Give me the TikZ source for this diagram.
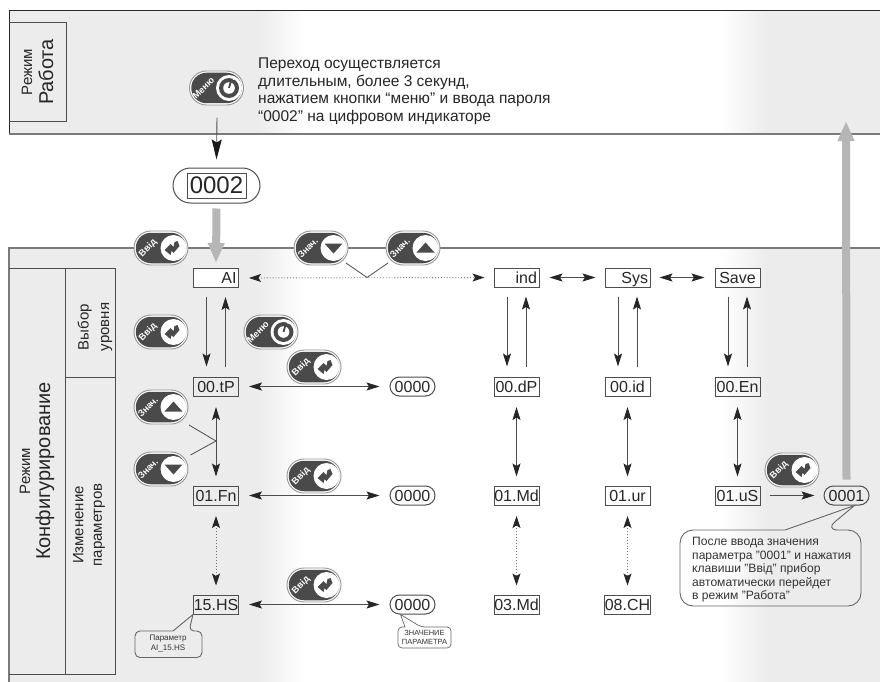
\documentclass[tikz,border=0pt]{standalone}
\usepackage{fontspec}
\setmainfont{Liberation Sans}
\usetikzlibrary{arrows.meta,shapes.misc,calc}
\newcommand{\fsz}[2]{\fontsize{#1}{#2}\selectfont}
\definecolor{bandgray}{HTML}{ECECEC}
\definecolor{keydark}{HTML}{4A4A4A}
\definecolor{bigarrow}{HTML}{B6B6B6}
\definecolor{inkline}{HTML}{4D4D4D}
\tikzset{
  lcd/.style={draw=inkline,line width=1pt,inner sep=0pt,minimum width=45pt,minimum height=19pt,text height=11.5pt,text depth=0pt,font=\fsz{16}{16},text=black!85},
  valcap/.style={rounded rectangle,draw=inkline,line width=1pt,inner sep=0pt,minimum width=45pt,minimum height=19pt,text height=11.5pt,text depth=0pt,font=\fsz{16}{16},text=black!85},
  keycap/.style={rounded rectangle,draw=black!42,fill=white,line width=.9pt,inner sep=0pt,minimum width=54pt,minimum height=34pt},
  keycore/.style={rounded rectangle,fill=keydark,inner sep=0pt,minimum width=50.5pt,minimum height=30.5pt},
  keylabel/.style={text=white,font=\bfseries\fsz{9.2}{9.2},rotate=45,inner sep=0pt},
  arr/.style={draw=inkline,line width=.9pt,-{Stealth[length=13pt,width=8pt,inset=2.5pt,color=black!85]}},
  barr/.style={draw=inkline,line width=.9pt,{Stealth[length=13pt,width=8pt,inset=2.5pt,color=black!85]}-{Stealth[length=13pt,width=8pt,inset=2.5pt,color=black!85]}},
  dotarr/.style={draw=black!55,line width=.9pt,dotted,{Stealth[length=12pt,width=8pt,inset=2.5pt,color=black!85]}-{Stealth[length=12pt,width=8pt,inset=2.5pt,color=black!85]}},
  bigtip/.style={draw=inkline,line width=.9pt,-{Stealth[length=20pt,width=10pt,inset=3pt,color=black!90]}},
  fat/.style={draw=bigarrow,line width=8pt,-{Triangle[length=20pt,width=15.5pt,color=bigarrow,fill=bigarrow]}},
  vee/.style={draw=inkline,line width=.8pt},
  gridline/.style={draw=inkline,line width=1pt},
  bandline/.style={draw=black!52,line width=1.2pt},
  side/.style={rotate=90,inner sep=0pt,align=center,text=black!85},
  callout/.style={draw=black!60,line width=.9pt},
  calltext/.style={inner sep=0pt,align=left,text=black!80}
}
\newcommand{\keybtn}[5]{%
  \node[keycap] (#1) at (#2,#3) {};
  \node[keycore] (#1c) at (#1.center) {};
  \fill[white] ($(#1.center)+(12.5,0)$) circle (13pt);
  \node[keylabel] (#1l) at ($(#1.center)+(-13,0)$) {#4};
  \begin{scope}[shift={($(#1.center)+(12.5,0)$)}]#5\end{scope}
}
\newcommand{\icoenter}{\fill[keydark] (-9,2) -- (-3,-4) -- (0,-1) -- (1,-6) -- (4,-7) -- (6,-2) -- (0,5) -- (-2,3) -- (-3,7) -- cycle;}
\newcommand{\icomenu}{\fill[keydark] (0,0) circle (10pt); \fill[white] (0,0) circle (5.8pt); \draw[keydark,line width=1.8pt] (0,0) -- (2.5,-9);\fill[white] (4.5,-9) circle (1pt);}
\newcommand{\icoup}{\fill[keydark] (-9,4.5) -- (9,4.5) -- (0,-5.5) -- cycle;}
\newcommand{\icodown}{\fill[keydark] (-9,-4.5) -- (9,-4.5) -- (0,5.5) -- cycle;}
\begin{document}
\begin{tikzpicture}[x=1pt,y=-1pt]
\useasboundingbox (0,0) rectangle (880,682);
\fill[white] (0,0) rectangle (880,682);
% backgrounds
\fill[bandgray] (9,11) rectangle (258,134);
\shade[left color=bandgray,right color=white] (258,11) rectangle (305,134);
\shade[left color=white,right color=bandgray] (720,11) rectangle (767,134);
\fill[bandgray] (767,11) rectangle (880,134);
\fill[bandgray] (9,248) rectangle (258,682);
\shade[left color=bandgray,right color=white] (258,248) rectangle (305,682);
\shade[left color=white,right color=bandgray] (720,248) rectangle (767,682);
\fill[bandgray] (767,248) rectangle (880,682);
% frames
\draw[draw=black!85,line width=1pt] (880,11) -- (9,11) -- (9,134);
\draw[bandline,line width=1.5pt] (9,134) -- (880,134);
\draw[bandline] (880,248) -- (9,248) -- (9,682);
\draw[gridline] (9,23) -- (66,23) -- (66,122) -- (9,122);
\draw[gridline] (9,268) -- (115,268) -- (115,674) -- (9,674);
\draw[gridline] (65.5,268) -- (65.5,674);
\draw[gridline] (65.5,377.5) -- (115,377.5);
% side labels
\node[side,font=\fsz{15}{15}] (lrezh1) at (27,72) {Режим};
\node[side,font=\fsz{20}{20}] (lrab) at (46,72) {Работа};
\node[side,font=\fsz{15}{15}] (lrezh2) at (25,471) {Режим};
\node[side,font=\fsz{20}{20}] (lkonf) at (45,471) {Конфигурирование};
\node[side,font=\fsz{15}{20.5}] (lvyb) at (95,327) {Выбор\\уровня};
\node[side,font=\fsz{15}{18.5}] (lizm) at (89,525) {Изменение\\параметров};
% top text
\node[anchor=north west,calltext,text=black!85,font=\fsz{15.5}{17.5}] (note) at (258,58) {Переход осуществляется\\длительным, более 3 секунд,\\нажатием кнопки “меню” и ввода пароля\\“0002” на цифровом индикаторе};
% 0002
\node[rounded rectangle,draw=inkline,fill=white,line width=1pt,minimum width=87pt,minimum height=35pt,inner sep=0pt] (c2) at (216.5,185.5) {};
\node[draw=inkline,line width=1pt,minimum width=59pt,minimum height=25pt,inner sep=0pt,font=\fsz{24}{24},text=black!85] (c2i) at (c2.center) {0002};
% level row
\node[lcd,fill=white] (ai) at (216,278) {\makebox[41pt][r]{AI}};
\node[lcd,fill=white] (ind) at (516.5,277.5) {\makebox[41pt][r]{ind}};
\node[lcd,fill=white] (sys) at (627.5,277.5) {\makebox[41pt][r]{Sys}};
\node[lcd,fill=white] (save) at (737.5,277.5) {Save};
% param rows
\node[lcd] (tp) at (216,386.5) {00.tP};
\node[lcd] (dp) at (516.5,386.5) {00.dP};
\node[lcd] (pid) at (627.5,386.5) {00.id};
\node[lcd] (en) at (737.5,386.5) {00.En};
\node[lcd] (fn) at (216,495.5) {01.Fn};
\node[lcd] (md) at (516.5,495.5) {01.Md};
\node[lcd] (ur) at (627.5,495.5) {01.ur};
\node[lcd] (us) at (737.5,495.5) {01.uS};
\node[lcd] (hs) at (216,604.5) {15.HS};
\node[lcd] (mdd) at (516.5,604.5) {03.Md};
\node[lcd] (ch) at (627.5,604.5) {08.CH};
\node[valcap] (v1) at (412.5,386.5) {0000};
\node[valcap] (v2) at (412.5,495.5) {0000};
\node[valcap] (v3) at (412.5,604.5) {0000};
\node[valcap] (v4) at (846.5,495.5) {0001};
% fat arrows
\coordinate (uptip) at (846,121);
\draw[fat,shorten <=5pt,shorten >=5pt] (c2i.south |- c2.south) -- (ai.north);
\draw[fat,shorten <=6pt] (v4.north) -- (uptip);
% menu arrow
\node[inner sep=0pt] (mstart) at (217,117) {};
\draw[bigtip] (mstart) -- ([yshift=8pt]c2.north);
% vertical level arrows
\foreach \t/\b in {ai/tp,ind/dp,sys/pid,save/en}{
  \draw[arr,shorten <=9pt,shorten >=10pt] ([xshift=-9.5pt]\t.south) -- ([xshift=-9.5pt]\b.north);
  \draw[arr,shorten <=10pt,shorten >=9pt] ([xshift=9.5pt]\b.north) -- ([xshift=9.5pt]\t.south);
}
% vertical param arrows
\foreach \t/\b in {tp/fn,dp/md,pid/ur,en/us}{
  \draw[barr,shorten <=10.5pt,shorten >=9pt] (\t.south) -- (\b.north);
}
\foreach \t/\b in {fn/hs,md/mdd,ur/ch}{
  \draw[dotarr,shorten <=10.5pt,shorten >=9pt] (\t.south) -- (\b.north);
}
% horizontals
\draw[dotarr,shorten <=10pt,shorten >=9pt] (ai.east) -- (ind.west);
\draw[barr,shorten <=10pt,shorten >=9pt] (ind.east) -- (sys.west);
\draw[barr,shorten <=9pt,shorten >=10pt] (sys.east) -- (save.west);
\draw[barr,shorten <=10pt,shorten >=10pt] (tp.east) -- (v1.west);
\draw[barr,shorten <=10pt,shorten >=10pt] (fn.east) -- (v2.west);
\draw[barr,shorten <=10pt,shorten >=10pt] (hs.east) -- (v3.west);
\draw[arr,shorten <=9pt,shorten >=9pt] (us.east) -- (v4.west);
% vees
\coordinate (veeh) at (367,277.5);
\coordinate (veeha) at (346,263);
\coordinate (veehb) at (388,263);
\draw[vee] (veeha) -- (veeh) -- (veehb);
\coordinate (veev) at (216,441);
\coordinate (veeva) at (189,425);
\coordinate (veevb) at (190.5,455);
\draw[vee] (veeva) -- (veev) -- (veevb);
% buttons
\keybtn{bmenu}{216.5}{88}{Меню}{\icomenu}
\keybtn{be1}{161}{248}{Ввід}{\icoenter}
\keybtn{bd1}{321}{248}{Знач.}{\icodown}
\keybtn{bu1}{413}{248}{Знач.}{\icoup}
\keybtn{be2}{161}{332}{Ввід}{\icoenter}
\keybtn{bmenu2}{271}{332}{Меню}{\icomenu}
\keybtn{be3}{314}{367}{Ввід}{\icoenter}
\keybtn{bu2}{161}{407}{Знач.}{\icoup}
\keybtn{bd2}{161}{469}{Знач.}{\icodown}
\keybtn{be4}{314}{476}{Ввід}{\icoenter}
\keybtn{be5}{314}{585}{Ввід}{\icoenter}
\keybtn{be6}{792}{470}{Ввід}{\icoenter}
% callouts
\draw[callout,rounded corners=13pt] (785,530) -- (680,530) -- (680,606) -- (861,606) -- (861,530) -- (825,530) [sharp corners] -- ([xshift=8pt]v4.south) -- cycle;
\node[anchor=north west,calltext,font=\fsz{12.1}{13.5}] (t1) at (692,537) {После ввода значения\\параметра "0001" и нажатия\\клавиши "Ввід" прибор\\автоматически перейдет\\в режим "Работа"};
\draw[callout,rounded corners=5pt] (173,631) -- (135,631) -- (135,657.5) -- (202,657.5) -- (202,631) -- (189,631) [sharp corners] -- (hs.south west) -- cycle;
\node[calltext,align=center,font=\fsz{8}{10}] (t2) at (168,644) {Параметр\\AI\_15.HS};
\draw[callout,line width=.7pt,rounded corners=4pt] (405,627) -- (398,627) -- (398,648) -- (451,648) -- (451,627) -- (421,627) [sharp corners] -- ([xshift=-12pt]v3.south) -- cycle;
\node[calltext,align=center,font=\fsz{7.5}{9.5}] (t3) at (424.5,637.5) {ЗНАЧЕНИЕ\\ПАРАМЕТРА};
\end{tikzpicture}
\end{document}
